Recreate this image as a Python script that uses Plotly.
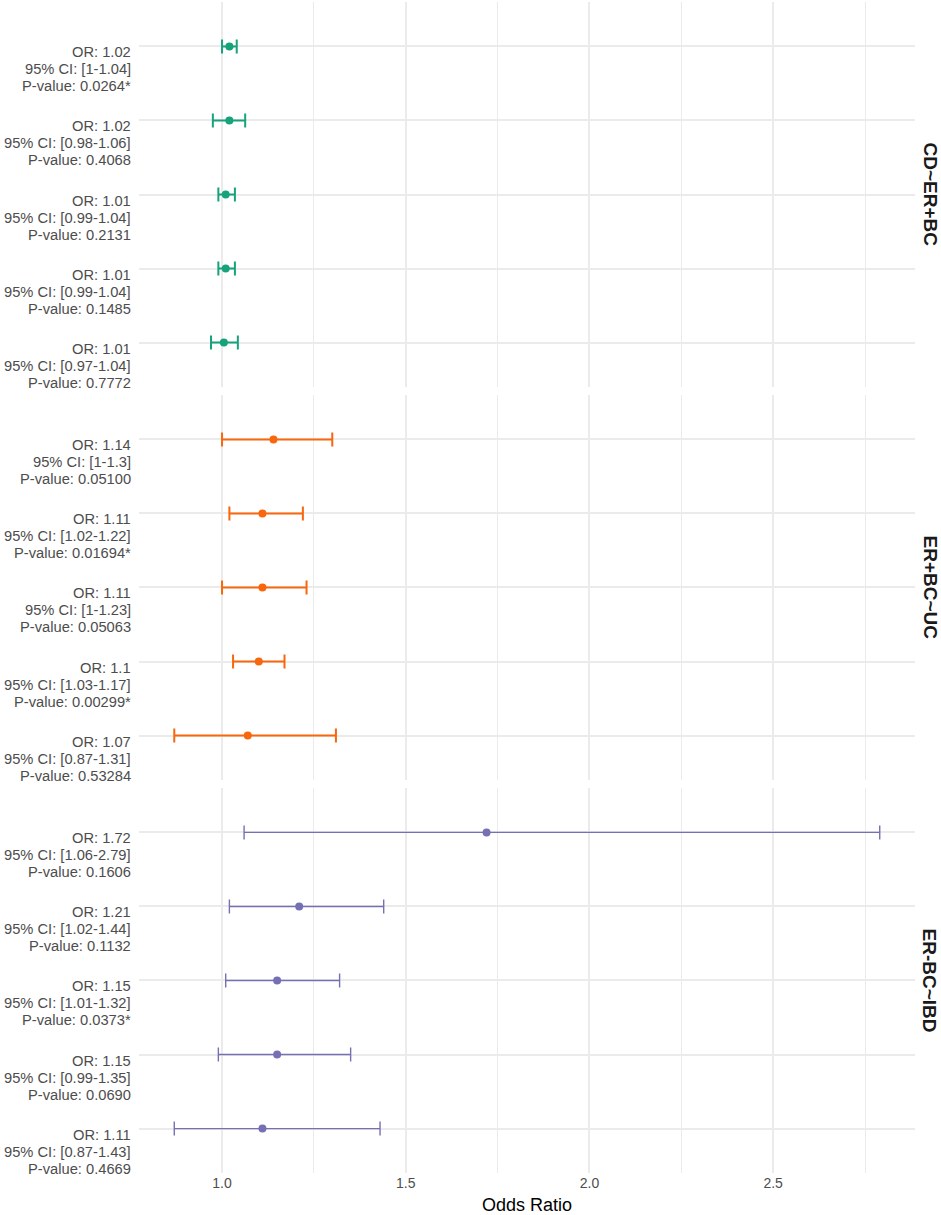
import plotly.graph_objects as go
from plotly.subplots import make_subplots

# facet groups, top to bottom
groups = ["CD~ER+BC", "ER+BC~UC", "ER-BC~IBD"]
colors = ["#16A27B", "#F8660D", "#7570B3"]
line_widths = [2, 2, 1.4]

# odds ratios and 95% CI, rows listed top to bottom within each facet
or_vals = [
    [1.02, 1.02, 1.01, 1.01, 1.005],
    [1.14, 1.11, 1.11, 1.10, 1.07],
    [1.72, 1.21, 1.15, 1.15, 1.11],
]
ci_low = [
    [1.00, 0.975, 0.99, 0.99, 0.97],
    [1.00, 1.02, 1.00, 1.03, 0.87],
    [1.06, 1.02, 1.01, 0.99, 0.87],
]
ci_high = [
    [1.04, 1.063, 1.035, 1.035, 1.043],
    [1.30, 1.22, 1.23, 1.17, 1.31],
    [2.79, 1.44, 1.32, 1.35, 1.43],
]
or_text = [
    ["1.02", "1.02", "1.01", "1.01", "1.01"],
    ["1.14", "1.11", "1.11", "1.1", "1.07"],
    ["1.72", "1.21", "1.15", "1.15", "1.11"],
]
ci_text = [
    ["[1-1.04]", "[0.98-1.06]", "[0.99-1.04]", "[0.99-1.04]", "[0.97-1.04]"],
    ["[1-1.3]", "[1.02-1.22]", "[1-1.23]", "[1.03-1.17]", "[0.87-1.31]"],
    ["[1.06-2.79]", "[1.02-1.44]", "[1.01-1.32]", "[0.99-1.35]", "[0.87-1.43]"],
]
p_text = [
    ["0.0264*", "0.4068", "0.2131", "0.1485", "0.7772"],
    ["0.05100", "0.01694*", "0.05063", "0.00299*", "0.53284"],
    ["0.1606", "0.1132", "0.0373*", "0.0690", "0.4669"],
]

x_ticks = [1.0, 1.5, 2.0, 2.5]
x_range = [0.774, 2.886]

FONT = "Liberation Sans, Arial, sans-serif"
GRID = "#EBEBEB"
TXT = "#4D4D4D"

fig = make_subplots(rows=3, cols=1, shared_xaxes=True, vertical_spacing=0.0068)

for g in range(len(groups)):
    rows = list(range(len(or_vals[g])))
    plus = [h - o for h, o in zip(ci_high[g], or_vals[g])]
    minus = [o - l for o, l in zip(or_vals[g], ci_low[g])]
    fig.add_trace(go.Scatter(
        x=or_vals[g], y=rows,
        mode="markers",
        marker=dict(color=colors[g], size=8),
        error_x=dict(type="data", symmetric=False, array=plus, arrayminus=minus,
                     color=colors[g], thickness=line_widths[g], width=7),
        showlegend=False,
    ), row=g + 1, col=1)

    yref = "y" if g == 0 else f"y{g + 1}"
    for i in rows:
        # one annotation per line so the line spacing stays tight like ggplot's
        lines = [f"OR: {or_text[g][i]}", f"95% CI: {ci_text[g][i]}",
                 f"P-value: {p_text[g][i]}"]
        for k, line in enumerate(lines):
            fig.add_annotation(
                text=line, xref="paper", x=0, xanchor="right", xshift=-6,
                yref=yref, y=i, yanchor="middle", yshift=-(6 + 17 * k),
                showarrow=False, font=dict(family=FONT, size=14.7, color=TXT),
            )

    # facet strip label on the right
    fig.add_annotation(
        text=f"<b>{groups[g]}</b>", xref="paper", x=1, xanchor="center", xshift=15,
        yref=f"{yref} domain", y=0.5, yanchor="middle", textangle=90,
        showarrow=False, font=dict(family=FONT, size=19, color="#1A1A1A"),
    )

    fig.update_yaxes(
        row=g + 1, col=1,
        range=[4.6, -0.6], tickvals=rows, showticklabels=False,
        showgrid=True, gridcolor=GRID, gridwidth=1.6, zeroline=False,
        showline=False, ticks="",
    )

fig.update_xaxes(
    range=x_range, tickvals=x_ticks, ticktext=[f"{t:.1f}" for t in x_ticks],
    showgrid=True, gridcolor=GRID, gridwidth=1.6, zeroline=False, showline=False,
    ticks="",
    minor=dict(tickvals=[1.25, 1.75, 2.25, 2.75], showgrid=True,
               gridcolor=GRID, gridwidth=1.2),
    tickfont=dict(family=FONT, size=14, color=TXT),
)
fig.update_xaxes(
    row=3, col=1,
    title=dict(text="Odds Ratio", font=dict(family=FONT, size=18, color="#000000"),
               standoff=9),
)

fig.update_layout(
    width=941, height=1215,
    margin=dict(l=139, r=26, t=2, b=42),
    plot_bgcolor="white", paper_bgcolor="white",
    font=dict(family=FONT),
)

# drop the browser's default body margin so the figure sits at the page corner
fig.write_html("out.html", config={"displayModeBar": False},
               post_script="document.body.style.margin = '0px';")
